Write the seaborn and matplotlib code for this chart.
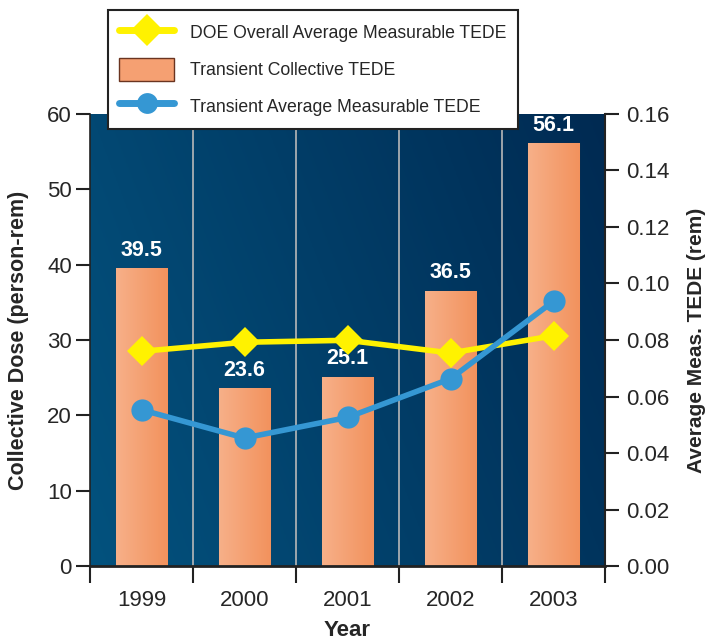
import numpy as np
import pandas as pd
import matplotlib
matplotlib.use("Agg")
import matplotlib.pyplot as plt
import seaborn as sns
from matplotlib.lines import Line2D
from matplotlib.patches import Patch

years = ["1999", "2000", "2001", "2002", "2003"]
collective = [39.5, 23.6, 25.1, 36.5, 56.1]
doe_avg = [0.0760, 0.0792, 0.0799, 0.0754, 0.0815]
transient_avg = [0.0553, 0.0453, 0.0526, 0.0663, 0.0937]

sns.set_theme(style="white")
plt.rcParams['font.family'] = ['Liberation Sans', 'DejaVu Sans']

df = pd.DataFrame({"Year": years, "Collective": collective,
                   "DOE": doe_avg, "Transient": transient_avg})

fig = plt.figure(figsize=(7.15, 6.44), dpi=100)
ax = fig.add_axes([0.1259, 0.1211, 0.8462 - 0.1259, 0.8230 - 0.1211])

# gradient background
gx, gy = np.meshgrid(np.linspace(0, 1, 200), np.linspace(0, 1, 200))
t = 0.75 * gx + 0.25 * (1 - gy)
c0 = np.array([0x03, 0x52, 0x7e]) / 255
c1 = np.array([0x00, 0x2a, 0x52]) / 255
img = c0[None, None, :] * (1 - t[..., None]) + c1[None, None, :] * t[..., None]
ax.imshow(img, extent=[-0.5, 4.5, 0, 60], aspect="auto", origin="upper", zorder=0)

sns.barplot(data=df, x="Year", y="Collective", ax=ax, width=0.5,
            color="#f5a072", edgecolor="#6a3420", linewidth=0.8, zorder=2)

# gradient fill on bars
l = np.array([0xf7, 0xb0, 0x89]) / 255
r = np.array([0xf2, 0x92, 0x5d]) / 255
bx = np.linspace(0, 1, 200)
grad = l[None, None, :] * (1 - bx[None, :, None]) + r[None, None, :] * bx[None, :, None]
grad = np.repeat(grad, 2, axis=0)
for p in ax.patches:
    x0, w, h = p.get_x(), p.get_width(), p.get_height()
    im = ax.imshow(grad, extent=[x0, x0 + w, 0, h], aspect="auto", zorder=2.5)
    im.set_clip_path(p)

for i, v in enumerate(collective):
    ax.text(i, v + 1.0, f"{v}", ha="center", va="bottom", color="white",
            fontsize=15.5, fontweight="bold", zorder=5)

ax.set_xlim(-0.5, 4.5)
ax.set_ylim(0, 60)
ax.set_yticks(range(0, 61, 10))
for b in [0.5, 1.5, 2.5, 3.5]:
    ax.axvline(b, color="#b8b8b8", lw=1.2, zorder=1)

ax.set_xticks(range(5))
ax.set_xticklabels(years, fontsize=16)
ax.set_xticks([-0.5, 0.5, 1.5, 2.5, 3.5, 4.5], minor=True)
ax.tick_params(axis="x", which="major", length=0, pad=17, bottom=False)
ax.tick_params(axis="x", which="minor", length=12, width=1.5, direction="out",
               bottom=True, color="#222222")
ax.tick_params(axis="y", length=10, width=1.5, direction="out", left=True,
               labelsize=16, color="#222222", pad=3)
ax.set_xlabel("Year", fontsize=16, fontweight="bold", labelpad=7)
ax.set_ylabel("Collective Dose (person-rem)", fontsize=15.5, fontweight="bold", labelpad=13)
for s in ax.spines.values():
    s.set_color("#222222")
ax.spines["bottom"].set_linewidth(2.0)
ax.spines["left"].set_linewidth(1.2)
ax.spines["top"].set_visible(False)
ax.spines["right"].set_visible(False)

ax2 = ax.twinx()
ax2.set_ylim(0, 0.16)
ax2.set_yticks(np.arange(0, 0.161, 0.02))
ax2.set_yticklabels([f"{v:.2f}" for v in np.arange(0, 0.161, 0.02)])
xs = np.arange(5)
sns.lineplot(x=xs, y=doe_avg, ax=ax2, color="#fff200", lw=4, marker="D",
             markersize=15, markeredgewidth=0, zorder=4)
sns.lineplot(x=xs, y=transient_avg, ax=ax2, color="#3597d3", lw=4, marker="o",
             markersize=16, markeredgewidth=0, zorder=4)
ax2.set_xlim(-0.5, 4.5)
ax2.tick_params(axis="y", length=10, width=1.5, direction="out", right=True,
                labelsize=16, color="#222222", pad=5)
ax2.set_ylabel("Average Meas. TEDE (rem)", fontsize=15, fontweight="bold", labelpad=13)
for s in ax2.spines.values():
    s.set_visible(False)
ax2.spines["right"].set_visible(True)
ax2.spines["right"].set_color("#222222")
ax2.spines["right"].set_linewidth(1.5)

handles = [
    Line2D([0], [0], color="#fff200", lw=5, marker="D", markersize=16, markeredgewidth=0),
    Patch(facecolor="#f5a072", edgecolor="#6a3420"),
    Line2D([0], [0], color="#3597d3", lw=5, marker="o", markersize=15, markeredgewidth=0),
]
labels = ["DOE Overall Average Measurable TEDE", "Transient Collective TEDE",
          "Transient Average Measurable TEDE"]
leg = fig.legend(handles, labels, loc="upper left", bbox_to_anchor=(0.151, 0.985),
                 frameon=True, fancybox=False, edgecolor="#222222", fontsize=12.7,
                 handlelength=3.1, handleheight=1.6, labelspacing=0.8,
                 borderpad=0.65, handletextpad=0.9, borderaxespad=0,
                 framealpha=1.0, facecolor="white")
leg.get_frame().set_linewidth(1.5)
leg.set_zorder(10)

fig.savefig("out.png", dpi=100)
